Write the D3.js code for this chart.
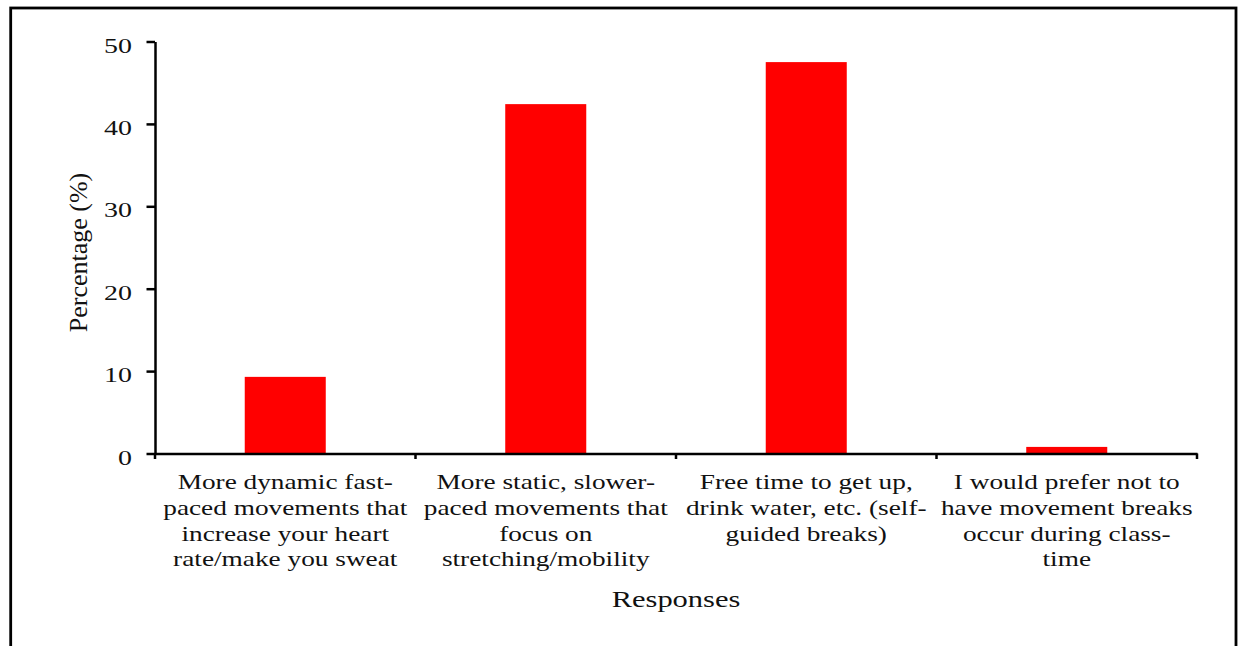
<!DOCTYPE html>
<html lang="en">
  <head>
    <meta charset="utf-8">
    <title>Movement break preferences</title>
    <script type="text/javascript" src="https://cdn.jsdelivr.net/npm/d3@7/dist/d3.min.js"></script>
    <style>
      body { margin: 0; background: #fff; }
      text { font-family: "Liberation Serif", "Times New Roman", serif; fill: #111; }
      .axis path, .axis line { stroke: #000; stroke-width: 2.5; }
    </style>
  </head>
  <body>
    <script type="text/javascript">
      var w = 1238;
      var h = 646;

      // data
      var categories = ["dyn", "static", "free", "none"];
      var labelLines = [
        ["More dynamic fast-", "paced movements that", "increase your heart", "rate/make you sweat"],
        ["More static, slower-", "paced movements that", "focus on", "stretching/mobility"],
        ["Free time to get up,", "drink water, etc. (self-", "guided breaks)"],
        ["I would prefer not to", "have movement breaks", "occur during class-", "time"]
      ];
      var percentages = [9.3, 42.4, 47.5, 0.8];
      var yTicks = [0, 10, 20, 30, 40, 50];

      var stretch = 1.27; // text in the original looks horizontally stretched

      var svg = d3.select("body")
        .append("svg")
        .attr("width", w)
        .attr("height", h);

      // outer frame
      svg.append("rect")
        .attr("x", 10.7)
        .attr("y", 8)
        .attr("width", 1225.3)
        .attr("height", 660)
        .attr("fill", "none")
        .attr("stroke", "#000")
        .attr("stroke-width", 2.8);

      var xScale = d3.scaleBand()
        .domain(categories)
        .range([155, 1197])
        .padding(0);

      var barScale = d3.scaleBand()
        .domain(categories)
        .range([155, 1197])
        .paddingInner(0.689)
        .paddingOuter(0.3445);

      var yScale = d3.scaleLinear()
        .domain([0, 50])
        .range([453.5, 41.5]);

      // bars
      svg.selectAll("rect.bar")
        .data(percentages)
        .enter()
        .append("rect")
        .attr("class", "bar")
        .attr("x", function(d, i) { return barScale(categories[i]); })
        .attr("y", function(d) { return yScale(d); })
        .attr("width", barScale.bandwidth())
        .attr("height", function(d) { return yScale(0) - yScale(d); })
        .attr("fill", "#ff0000");

      // y axis
      var yAxis = d3.axisLeft(yScale)
        .tickValues(yTicks)
        .tickSize(8.5)
        .tickSizeOuter(0);

      var gy = svg.append("g")
        .attr("class", "axis")
        .attr("transform", "translate(155,0)")
        .call(yAxis);
      gy.selectAll("text")
        .attr("x", null)
        .attr("dy", null)
        .attr("font-size", 22)
        .attr("transform", "translate(-23,10.5) scale(" + stretch + ",1)");

      // x axis: line only, ticks at the category boundaries
      var xAxis = d3.axisBottom(xScale)
        .tickSize(0)
        .tickSizeOuter(0)
        .tickFormat("");

      var gx = svg.append("g")
        .attr("class", "axis")
        .attr("transform", "translate(0," + yScale(0) + ")")
        .call(xAxis);

      var bounds = categories.map(function(c) { return xScale(c); });
      bounds.push(xScale(categories[categories.length - 1]) + xScale.bandwidth());

      gx.selectAll("line.bound")
        .data(bounds)
        .enter()
        .append("line")
        .attr("class", "bound")
        .attr("x1", function(d) { return d; })
        .attr("x2", function(d) { return d; })
        .attr("y1", 0)
        .attr("y2", 5.5);

      // category labels
      var labels = svg.selectAll("text.cat")
        .data(labelLines)
        .enter()
        .append("text")
        .attr("class", "cat")
        .attr("font-size", 21.5)
        .attr("text-anchor", "middle")
        .attr("transform", function(d, i) {
          return "translate(" + (xScale(categories[i]) + xScale.bandwidth() / 2) + ",489) scale(" + stretch + ",1)";
        });

      labels.selectAll("tspan")
        .data(function(d) { return d; })
        .enter()
        .append("tspan")
        .attr("x", 0)
        .attr("y", function(d, i) { return i * 25.8; })
        .text(function(d) { return d; });

      // axis titles
      svg.append("text")
        .attr("font-size", 24)
        .attr("text-anchor", "middle")
        .attr("transform", "translate(676,606.5) scale(" + stretch + ",1)")
        .text("Responses");

      svg.append("text")
        .attr("font-size", 26)
        .attr("text-anchor", "middle")
        .attr("dominant-baseline", "central")
        .attr("transform", "translate(78,252.5) rotate(-90)")
        .text("Percentage (%)");
    </script>
  </body>
</html>
